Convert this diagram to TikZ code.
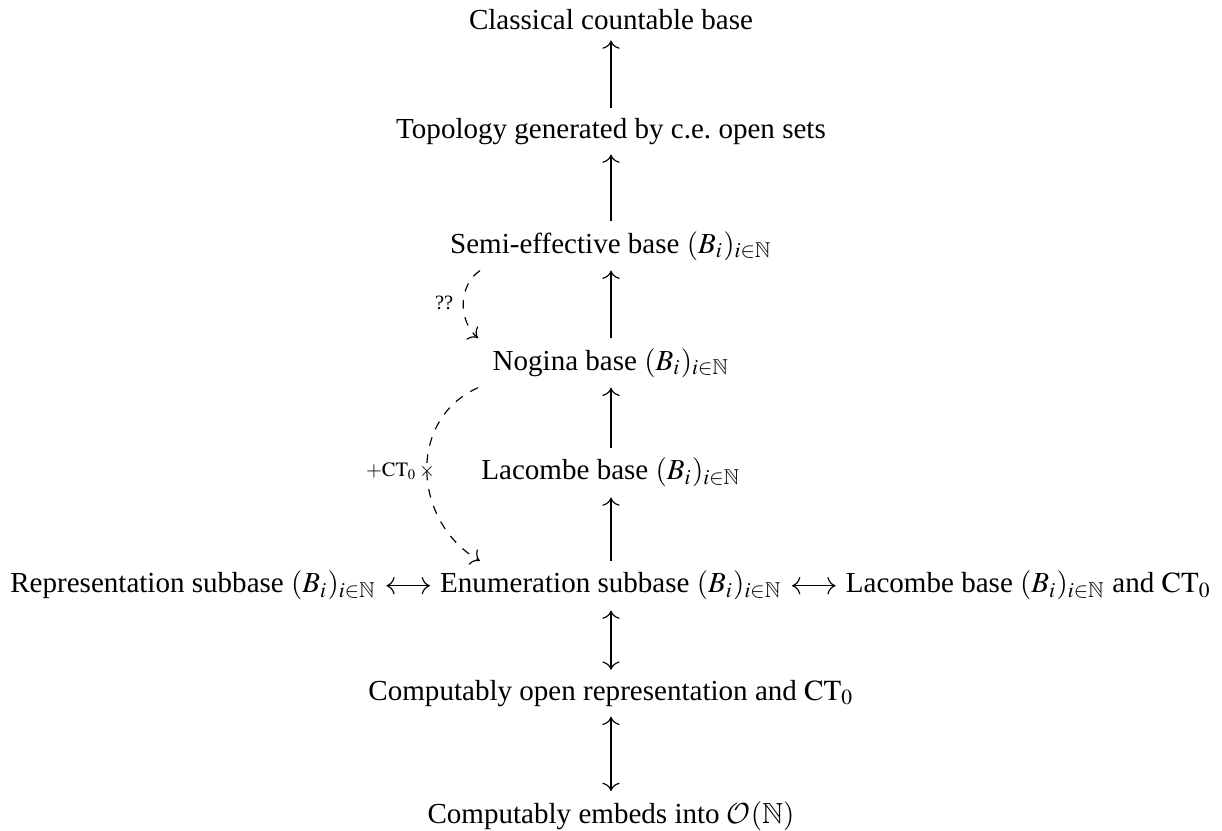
\documentclass[tikz,border=0pt]{standalone}
\usepackage{mathptmx}
\usepackage{amssymb}
\usepackage[no-math]{fontspec}
\setmainfont{Liberation Serif}
\DeclareMathAlphabet{\mathcal}{OMS}{cmsy}{m}{n}
\usetikzlibrary{arrows.meta,positioning}

\begin{document}
\begin{tikzpicture}[>={Computer Modern Rightarrow[scale=1.15]}, stmt/.style={anchor=base}, lbl/.style={font=\scriptsize}]
    \useasboundingbox (0,0) rectangle (420.6pt,-286pt);
    \node[stmt] (C) at (210.3pt,-10.3pt) {Classical countable base};
    \node[stmt] (T) at (210.3pt,-47.5pt) {Topology generated by c.e.\ open sets};
    \node[stmt] (S) at (210.3pt,-87.1pt) {Semi-effective base $(B_i)_{i\in\mathbb{N}}$};
    \node[stmt] (N) at (210.3pt,-127.4pt) {Nogina base $(B_i)_{i\in\mathbb{N}}$};
    \node[stmt] (L) at (210.3pt,-165.2pt) {Lacombe base $(B_i)_{i\in\mathbb{N}}$};
    \node[stmt] (E) at (210.3pt,-204.1pt) {Enumeration subbase $(B_i)_{i\in\mathbb{N}}$};
    \node (R) [base left=15pt of E] {Representation subbase $(B_i)_{i\in\mathbb{N}}$};
    \node (LC) [base right=15pt of E] {Lacombe base $(B_i)_{i\in\mathbb{N}}$ and $\mathrm{CT}_0$};
    \node[stmt] (O) at (210.3pt,-241pt) {Computably open representation and $\mathrm{CT}_0$};
    \node[stmt] (M) at (210.3pt,-283.3pt) {Computably embeds into $\mathcal{O}(\mathbb{N})$};

    \path[->] (T) edge (C);
    \path[->] (S) edge (T);
    \path[->] (N) edge (S);
    \path[->] (L) edge (N);
    \path[->] (E) edge (L);
    \path[<->] (E) edge (O);
    \path[<->] (O) edge (M);
    \path[<->] (R.east) edge (E.west);
    \path[<->] (E.east) edge (LC.west);
    %\path[->, dashed] (S) edge[bend right=80] (N);
    \path[->, dashed] ([xshift=13.8pt]S.south west) edge[out=214, in=139] node[lbl, left] {??} ([xshift=-1.5pt]N.north west);
    \path[->, dashed] ([xshift=-1.5pt]N.south west) edge[out=204, in=150, looseness=1.15] node[lbl] {$\times$} node[lbl, left] {$+\mathrm{CT}_0$} ([xshift=17.2pt]E.north west);
  \end{tikzpicture}
\end{document}
